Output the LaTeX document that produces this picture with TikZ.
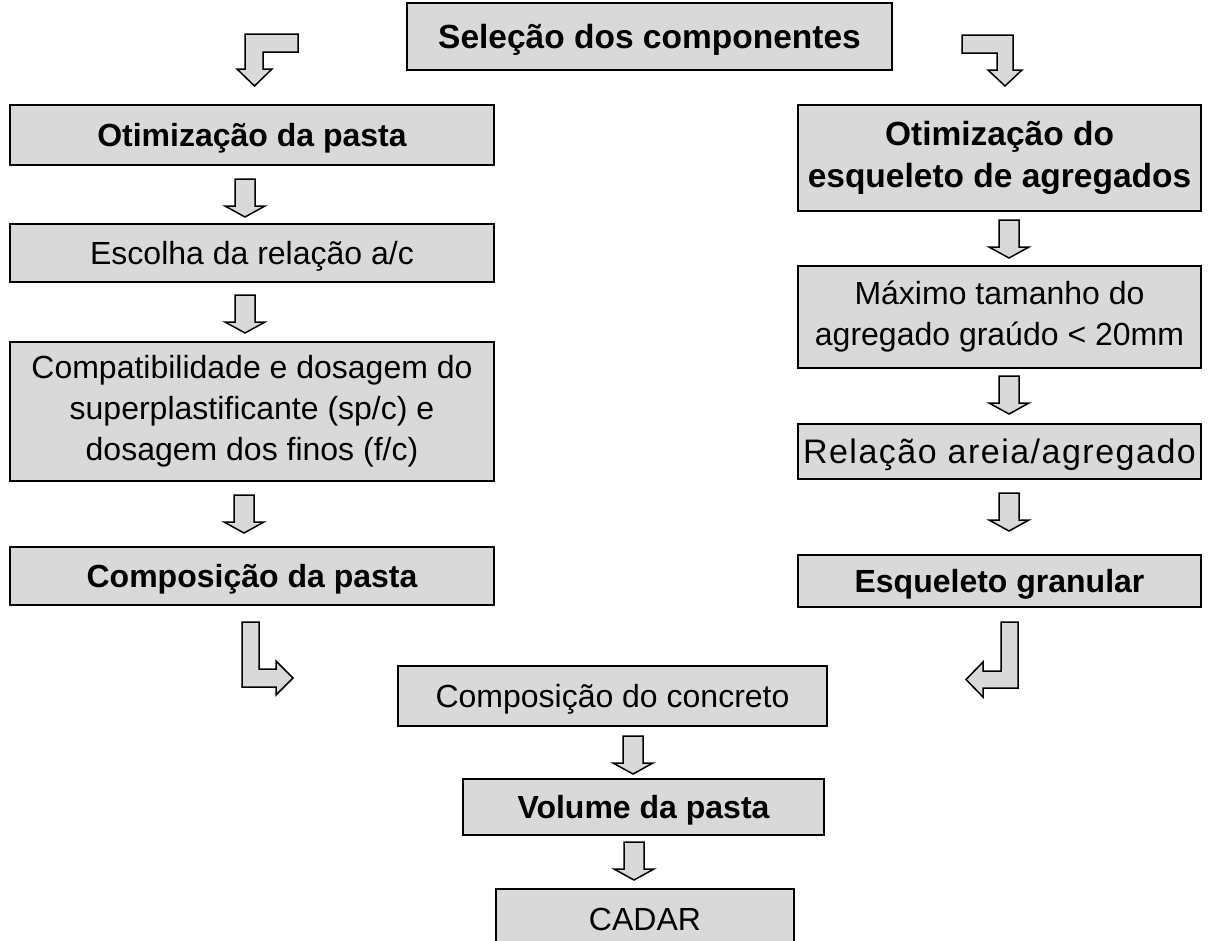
\documentclass[tikz,border=0pt]{standalone}
\usepackage{fontspec}
\setmainfont{Liberation Sans}
\definecolor{boxgray}{HTML}{D9D9D9}
\tikzset{
  box/.style={draw=black, line width=1.5pt, fill=boxgray, rectangle, inner sep=0pt, align=center,
    font=\fontsize{32}{41}\selectfont},
  bbox/.style={box, font=\fontsize{32}{41}\selectfont\bfseries},
  bigbbox/.style={box, font=\fontsize{33.5}{42}\selectfont\bfseries},
  oneline/.style={text height=23pt, text depth=0pt},
  blockarrow/.style={draw=black, line width=1.5pt, fill=boxgray, line join=miter},
  pics/downarr/.style={code={
    \path[blockarrow] (-10,0) -- (10,0) -- (10,27) -- (20,27) -- (0,38) -- (-20,27) -- (-10,27) -- cycle;}}
}
\begin{document}
\begin{tikzpicture}[x=1pt,y=-1pt]
\useasboundingbox (0,0) rectangle (1213,940);
% boxes
\node[bigbbox, oneline, text height=24pt, minimum width=485pt, minimum height=67pt] (sel) at (649.5,36.5) {Seleção dos componentes};
\node[bbox, oneline, minimum width=484pt, minimum height=60pt] (pasta) at (252,135) {Otimização da pasta};
\node[box, oneline, minimum width=484pt, minimum height=58pt] (esc) at (252,253) {Escolha da relação a/c};
\node[box, minimum width=484pt, minimum height=139pt] (comp) at (252,411.5) {Compatibilidade e dosagem do\\superplastificante (sp/c) e\\dosagem dos finos (f/c)};
\node[bbox, oneline, minimum width=484pt, minimum height=58pt] (cpasta) at (252,576) {Composição da pasta};
\node[bigbbox, minimum width=403pt, minimum height=106pt] (esq) at (999.5,158) {Otimização do\\esqueleto de agregados};
\node[box, minimum width=403pt, minimum height=102pt] (max) at (999.5,317) {Máximo tamanho do\\agregado graúdo < 20mm};
\node[box, oneline, text height=24pt, minimum width=403pt, minimum height=55pt, font=\fontsize{34}{41}\selectfont\addfontfeature{LetterSpace=4.4}] (rel) at (999.5,451.5) {Relação areia/agregado};
\node[bbox, oneline, minimum width=403pt, minimum height=52pt] (gran) at (999.5,581) {Esqueleto granular};
\node[box, oneline, minimum width=429pt, minimum height=60pt] (conc) at (612.5,696) {Composição do concreto};
\node[bbox, oneline, minimum width=361pt, minimum height=56pt] (vol) at (643.5,807) {Volume da pasta};
\node[box, oneline, minimum width=298pt, minimum height=60pt] (cadar) at (645,919) {CADAR};
% straight block arrows
\pic at (245,179) {downarr};
\pic at (245,295) {downarr};
\pic at (244,495) {downarr};
\pic at (1009,220) {downarr};
\pic at (1009,376) {downarr};
\pic at (1009,493) {downarr};
\pic at (633,736) {downarr};
\pic at (634,842) {downarr};
% bent block arrows
\path[blockarrow] (245,34) -- (298,34) -- (298,52) -- (263,52) -- (263,69) -- (272,69) -- (254.5,86) -- (237,69) -- (245,69) -- cycle;
\path[blockarrow] (962,35) -- (1013,35) -- (1013,70) -- (1022,70) -- (1005,86) -- (988,70) -- (997,70) -- (997,53) -- (962,53) -- cycle;
\path[blockarrow] (242,622) -- (259,622) -- (259,669) -- (276,669) -- (276,661) -- (293,678) -- (276,695) -- (276,687) -- (242,687) -- cycle;
\path[blockarrow] (1001,622) -- (1018,622) -- (1018,688) -- (983,688) -- (983,697) -- (966,679.5) -- (983,662) -- (983,671) -- (1001,671) -- cycle;
\end{tikzpicture}
\end{document}
